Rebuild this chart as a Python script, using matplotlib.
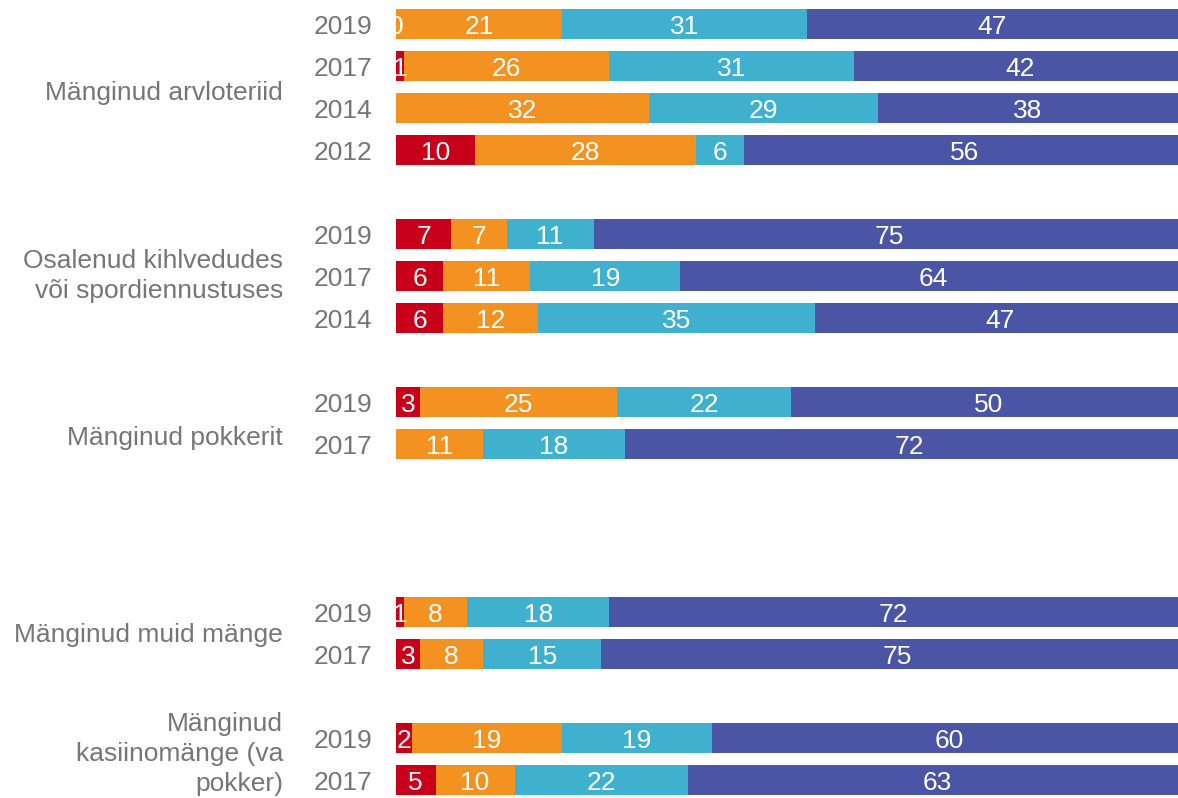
import numpy as np
import matplotlib
matplotlib.use("Agg")
import matplotlib.pyplot as plt

plt.rcParams['font.family'] = ['Liberation Sans', 'DejaVu Sans']

# Survey answer shares (%) per year, four response segments per bar
years = ["2019", "2017", "2014", "2012",
         "2019", "2017", "2014",
         "2019", "2017",
         "2019", "2017",
         "2019", "2017"]
seg1 = [0, 1, np.nan, 10, 7, 6, 6, 3, np.nan, 1, 3, 2, 5]
seg2 = [21, 26, 32, 28, 7, 11, 12, 25, 11, 8, 8, 19, 10]
seg3 = [31, 31, 29, 6, 11, 19, 35, 22, 18, 18, 15, 19, 22]
seg4 = [47, 42, 38, 56, 75, 64, 47, 50, 72, 72, 75, 60, 63]

groups = ["Mänginud arvloteriid",
          "Osalenud kihlvedudes\nvõi spordiennustuses",
          "Mänginud pokkerit",
          "Mänginud muid mänge",
          "Mänginud\nkasiinomänge (va\npokker)"]

# Row slots (top to bottom) for each bar, and vertical anchor for each group label
row_pos = [0, 1, 2, 3, 5, 6, 7, 9, 10, 14, 15, 17, 18]
group_pos = [1.64, 6.0, 9.86, 14.55, 17.38]

colors = ["#C8001A", "#F39220", "#3FB1CE", "#4A55A5"]
text_gray = "#767676"

W, H = 1178, 798
fig = plt.figure(figsize=(W / 100, H / 100), dpi=100)
x0 = 396 / W
ax = fig.add_axes([x0, 0, (1186 - 396) / W, 1])
ax.set_xlim(0, 100)
ax.set_ylim(18 + (H - 780) / 42, -24 / 42)
ax.axis("off")

series = [seg1, seg2, seg3, seg4]
left = np.zeros(len(years))
for vals, col in zip(series, colors):
    v = np.array(vals, dtype=float)
    ax.barh(row_pos, v, left=left, height=0.72, color=col, linewidth=0)
    for y, l, val in zip(row_pos, left, v):
        if not np.isnan(val):
            ax.text(l + val / 2, y, f"{int(val)}", ha="center",
                    va="center_baseline", color="white", fontsize=19)
    left = left + np.nan_to_num(v)

# year labels next to each bar
for y, yr in zip(row_pos, years):
    ax.text(-3.0, y, yr, ha="right", va="center_baseline",
            color=text_gray, fontsize=19)

# group labels
for y, g in zip(group_pos, groups):
    ax.text(-14.3, y, g, ha="right", va="center", color=text_gray,
            fontsize=19, linespacing=1.3, multialignment="right")

fig.savefig("out.png", dpi=100)
